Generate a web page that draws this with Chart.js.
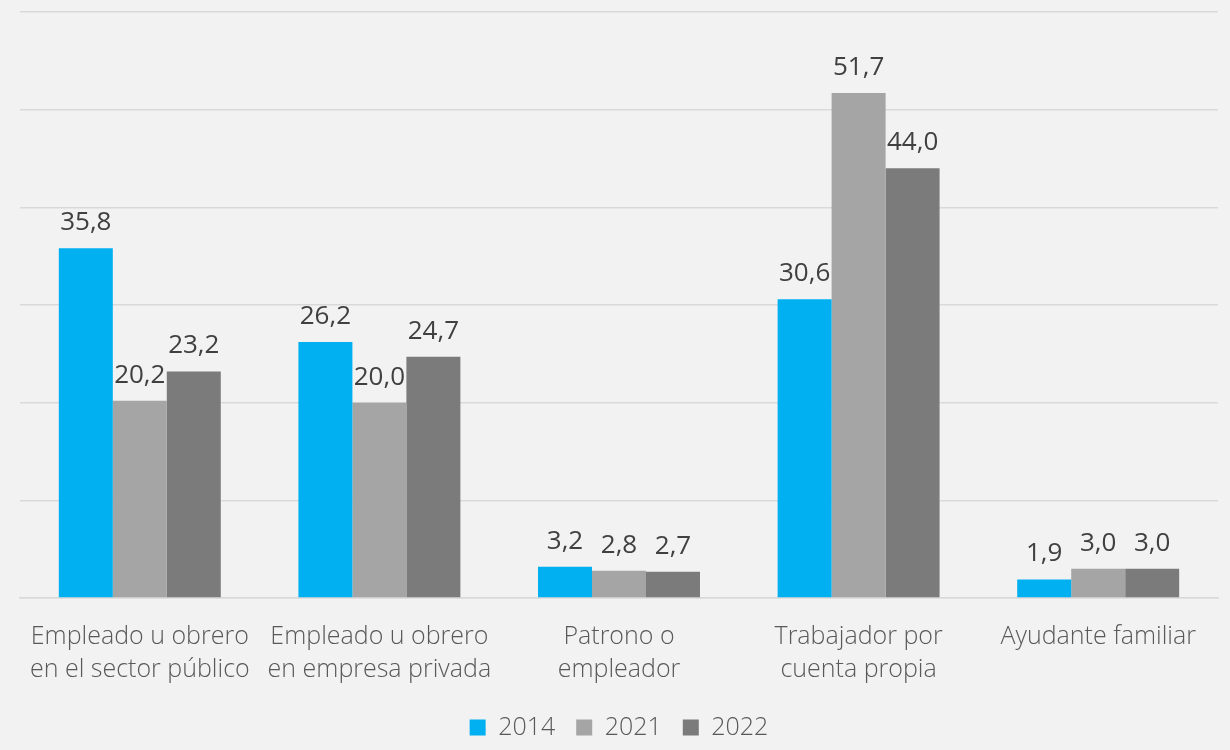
<!DOCTYPE html>
<html>
<head>
<meta charset="utf-8">
<script src="https://cdn.jsdelivr.net/npm/chart.js@4/dist/chart.umd.min.js"></script>
<style>
    html, body { margin: 0; padding: 0; background: #f2f2f2; }
    #wrap { width: 1230px; height: 750px; }
</style>
</head>
<body>
<div id="wrap"><canvas id="chart" width="1230" height="750"></canvas></div>
<script>
// Categories and series values
const categories = [
    ['Empleado u obrero', 'en el sector público'],
    ['Empleado u obrero', 'en empresa privada'],
    ['Patrono o', 'empleador'],
    ['Trabajador por', 'cuenta propia'],
    ['Ayudante familiar']
];
const years = ['2014', '2021', '2022'];
const values2014 = [35.8, 26.2, 3.2, 30.6, 1.9];
const values2021 = [20.2, 20.0, 2.8, 51.7, 3.0];
const values2022 = [23.2, 24.7, 2.7, 44.0, 3.0];
const seriesColors = ['#00b0f0', '#a5a5a5', '#7b7b7b'];

const FONT = '"Open Sans", "Noto Sans", sans-serif';

// Value labels above each bar, decimal comma
const valueLabels = {
    id: 'valueLabels',
    afterDatasetsDraw(chart) {
        const ctx = chart.ctx;
        ctx.save();
        ctx.font = '400 26px ' + FONT;
        ctx.fillStyle = '#404040';
        ctx.textAlign = 'center';
        ctx.textBaseline = 'alphabetic';
        chart.data.datasets.forEach((ds, i) => {
            const meta = chart.getDatasetMeta(i);
            meta.data.forEach((bar, j) => {
                const txt = ds.data[j].toFixed(1).replace('.', ',');
                ctx.fillText(txt, bar.x, bar.y - 18);
            });
        });
        ctx.restore();
    }
};

const ctx = document.getElementById('chart').getContext('2d');
new Chart(ctx, {
    type: 'bar',
    data: {
        labels: categories,
        datasets: [
            { label: years[0], data: values2014, backgroundColor: seriesColors[0] },
            { label: years[1], data: values2021, backgroundColor: seriesColors[1] },
            { label: years[2], data: values2022, backgroundColor: seriesColors[2] }
        ]
    },
    options: {
        responsive: false,
        animation: false,
        layout: { padding: { left: 20, right: 12, top: 12, bottom: 0 } },
        datasets: {
            bar: { categoryPercentage: 0.676, barPercentage: 1.0, borderWidth: 0 }
        },
        plugins: {
            tooltip: { enabled: false },
            legend: {
                position: 'bottom',
                labels: {
                    color: '#595959',
                    boxWidth: 16,
                    boxHeight: 16,
                    padding: 21,
                    font: { family: FONT, size: 25, weight: '300' }
                }
            }
        },
        scales: {
            x: {
                grid: { display: false },
                border: { color: '#d9d9d9', width: 1.5 },
                ticks: {
                    color: '#595959',
                    padding: 14,
                    maxRotation: 0,
                    font: { family: FONT, size: 25, weight: '300', lineHeight: 1.32 }
                },
                afterFit(scale) { scale.height = 96; }
            },
            y: {
                min: 0,
                max: 60,
                ticks: { display: false, stepSize: 10 },
                border: { display: false },
                grid: { color: '#d9d9d9', lineWidth: 1.5, drawTicks: false },
                afterFit(scale) { scale.width = 0; }
            }
        }
    },
    plugins: [valueLabels]
});
</script>
</body>
</html>
